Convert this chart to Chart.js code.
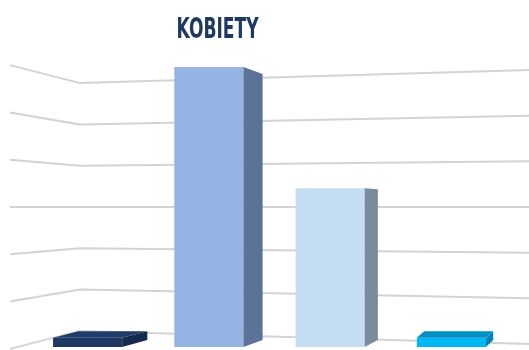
<!DOCTYPE html>
<html>
<head>
<meta charset="utf-8">
<script src="https://cdn.jsdelivr.net/npm/chart.js@4"></script>
<style>body{margin:0;background:#fff}</style>
</head>
<body>
<canvas id="womenChart" width="529" height="350"></canvas>
<script>
const categories = ['Grupa 1', 'Grupa 2', 'Grupa 3', 'Grupa 4'];
const values = [2, 60, 34, 2];
const tickValues = [0, 10, 20, 30, 40, 50, 60];
const chartTitle = 'KOBIETY';

const frontColors = ['#1f3864', '#95b3e3', '#c5ddf3', '#00b6f3'];
const sideColors = ['#162a4d', '#5d7298', '#7a8b9d', '#0083b6'];
const topColors = ['#213c6b', '#a9c2ea', '#d5e6f6', '#0090c6'];

// view geometry for the fake 3D walls
const horizonY = 207;
const wallCornerX = 80;
const frontToBack = 1.13;
const leftWallSpread = 1.145;
const backWallSpread = 1.105;
const depthShrink = 0.95;

const wallsPlugin = {
    id: 'walls',
    beforeDatasetsDraw(chart) {
        const ctx = chart.ctx;
        const y = chart.scales.y;
        ctx.save();
        ctx.strokeStyle = '#d3d3d3';
        ctx.lineWidth = 2;
        ctx.lineJoin = 'round';
        tickValues.forEach(v => {
            const fy = y.getPixelForValue(v);
            const by = horizonY + (fy - horizonY) / frontToBack;
            ctx.beginPath();
            ctx.moveTo(10, horizonY + (by - horizonY) * leftWallSpread);
            ctx.lineTo(wallCornerX, by);
            ctx.lineTo(chart.width, horizonY + (by - horizonY) * backWallSpread);
            ctx.stroke();
        });
        ctx.restore();
    }
};

const depthPlugin = {
    id: 'depth',
    afterDatasetsDraw(chart) {
        const ctx = chart.ctx;
        const meta = chart.getDatasetMeta(0);
        const back = yy => horizonY + (yy - horizonY) * depthShrink;
        meta.data.forEach((bar, i) => {
            const left = bar.x - bar.width / 2;
            const right = bar.x + bar.width / 2;
            const top = bar.y;
            const base = bar.base;
            const dx = 29.4 - 0.049 * bar.x;
            ctx.save();
            // right side
            ctx.fillStyle = sideColors[i];
            ctx.beginPath();
            ctx.moveTo(right, top);
            ctx.lineTo(right + dx, back(top));
            ctx.lineTo(right + dx, back(base));
            ctx.lineTo(right, base);
            ctx.closePath();
            ctx.fill();
            // lid, only seen below the horizon
            if (top > horizonY) {
                ctx.fillStyle = topColors[i];
                ctx.beginPath();
                ctx.moveTo(left, top);
                ctx.lineTo(right, top);
                ctx.lineTo(right + dx, back(top));
                ctx.lineTo(left + dx, back(top));
                ctx.closePath();
                ctx.fill();
            }
            ctx.restore();
        });
    }
};

const titlePlugin = {
    id: 'narrowTitle',
    afterDraw(chart) {
        const ctx = chart.ctx;
        ctx.save();
        ctx.translate(217.5, 38);
        ctx.scale(0.59, 1);
        ctx.font = 'bold 29px "DejaVu Sans"';
        ctx.fillStyle = '#1f3864';
        ctx.textAlign = 'center';
        ctx.textBaseline = 'alphabetic';
        ctx.fillText(chartTitle, 0, 0);
        ctx.restore();
    }
};

const ctx = document.getElementById('womenChart').getContext('2d');
window.womenChart = new Chart(ctx, {
    type: 'bar',
    data: {
        labels: categories,
        datasets: [{
            data: values,
            backgroundColor: frontColors,
            borderWidth: 0,
            barPercentage: 0.57,
            categoryPercentage: 1
        }]
    },
    options: {
        responsive: false,
        devicePixelRatio: 1,
        animation: false,
        layout: {
            padding: { left: 27, right: 17, top: 67, bottom: 3 }
        },
        scales: {
            x: { display: false },
            y: { display: false, min: 0, max: 60 }
        },
        plugins: {
            legend: { display: false },
            title: { display: false },
            tooltip: { enabled: false }
        }
    },
    plugins: [wallsPlugin, depthPlugin, titlePlugin]
});
</script>
</body>
</html>
